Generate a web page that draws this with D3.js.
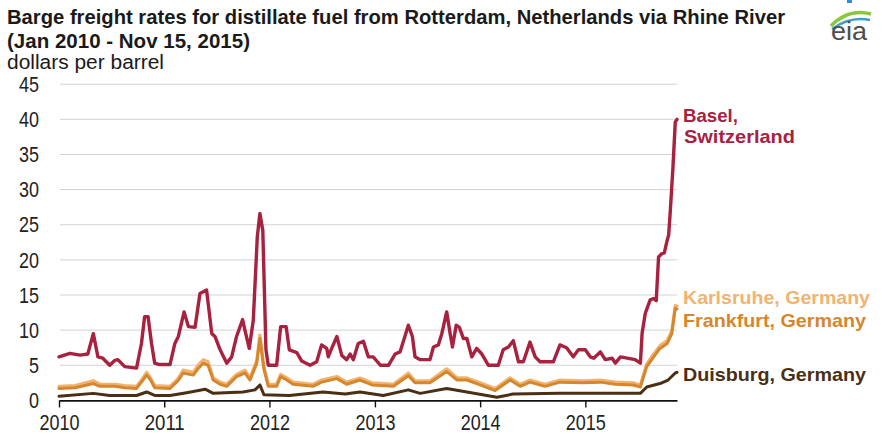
<!DOCTYPE html>
<html>
<head>
<meta charset="utf-8">
<script src="https://cdn.jsdelivr.net/npm/d3@7"></script>
<style>
  html, body { margin: 0; padding: 0; background: #ffffff; }
  svg { display: block; }
  text { font-family: "Liberation Sans", Arial, sans-serif; }
</style>
</head>
<body>
<svg id="chart" width="882" height="434"></svg>
<script>
// Barge freight rates, dollars per barrel, read weekly-ish from EIA series
const baselDates = [
  "2010-01-01","2010-02-08","2010-03-15","2010-04-11","2010-04-30","2010-05-16","2010-06-02","2010-06-26",
  "2010-07-14","2010-07-24","2010-08-17","2010-09-27","2010-10-14","2010-10-25","2010-11-06","2010-11-18",
  "2010-11-29","2010-12-16","2011-01-21","2011-02-07","2011-02-19","2011-03-11","2011-03-26","2011-04-18",
  "2011-05-05","2011-05-28","2011-06-15","2011-06-26","2011-07-14","2011-08-06","2011-08-23","2011-09-09",
  "2011-09-30","2011-10-08","2011-10-23","2011-11-06","2011-11-20","2011-11-29","2011-12-09","2011-12-20",
  "2011-12-28","2012-01-26","2012-02-09","2012-02-28","2012-03-10","2012-04-05","2012-04-22","2012-05-21",
  "2012-06-13","2012-06-30","2012-07-18","2012-07-23","2012-08-04","2012-08-22","2012-09-08","2012-09-25",
  "2012-10-07","2012-10-18","2012-11-04","2012-11-22","2012-12-09","2012-12-26","2013-01-20","2013-02-17",
  "2013-03-12","2013-03-29","2013-04-15","2013-04-27","2013-05-11","2013-05-20","2013-06-07","2013-07-11",
  "2013-07-23","2013-08-09","2013-08-21","2013-09-07","2013-09-19","2013-09-27","2013-10-10","2013-10-21",
  "2013-11-04","2013-11-16","2013-12-03","2013-12-20","2014-01-07","2014-01-30","2014-03-05","2014-03-22",
  "2014-04-09","2014-04-26","2014-05-14","2014-05-31","2014-06-23","2014-07-11","2014-07-28","2014-09-12",
  "2014-10-05","2014-10-28","2014-11-20","2014-12-08","2015-01-01","2015-01-18","2015-01-30","2015-02-22",
  "2015-03-11","2015-04-04","2015-04-15","2015-05-03","2015-06-23","2015-07-11","2015-07-17","2015-07-28",
  "2015-08-14","2015-08-26","2015-09-04","2015-09-12","2015-09-24","2015-10-02","2015-10-12","2015-10-17",
  "2015-10-23","2015-11-01","2015-11-09","2015-11-15"
];
const baselValues = [
  6.2, 6.7, 6.45, 6.6, 9.5, 6.2, 6.0, 5.0,
  5.7, 5.8, 4.8, 4.6, 8.1, 11.9, 11.9, 8.1,
  5.3, 5.1, 5.1, 8.1, 9.1, 12.6, 10.5, 10.4,
  15.2, 15.7, 9.5, 9.1, 7.2, 5.3, 6.2, 9.1,
  11.5, 10.0, 7.4, 11.4, 23.3, 26.6, 24.2, 7.2,
  5.0, 5.0, 10.5, 10.5, 7.2, 6.8, 5.6, 5.0,
  5.5, 7.9, 7.4, 6.2, 7.4, 9.1, 6.4, 5.8,
  6.6, 5.8, 8.1, 8.4, 6.2, 6.2, 5.0, 5.0,
  6.6, 6.9, 9.1, 10.7, 9.1, 6.2, 5.8, 5.8,
  7.6, 7.9, 9.5, 12.6, 9.5, 7.6, 10.7, 10.4,
  8.8, 8.8, 6.2, 7.4, 6.6, 5.0, 5.0, 7.2,
  7.6, 8.5, 5.5, 5.5, 8.3, 6.2, 5.5, 5.5,
  7.9, 7.5, 6.2, 7.2, 7.2, 6.2, 6.0, 6.9,
  5.8, 6.0, 5.3, 6.2, 5.8, 5.3, 9.6, 12.4,
  14.3, 14.5, 14.2, 20.4, 20.9, 21.0, 22.8, 23.5,
  27.1, 33.2, 39.6, 40.0
];

const rhineDates = [
  "2010-01-01","2010-02-26","2010-04-30","2010-05-23","2010-07-14","2010-08-17","2010-09-27","2010-10-14",
  "2010-11-01","2010-11-13","2010-11-29","2011-01-21","2011-02-18","2011-03-08","2011-04-12","2011-04-28",
  "2011-05-17","2011-06-02","2011-06-20","2011-07-14","2011-08-06","2011-09-09","2011-10-08","2011-10-26",
  "2011-11-18","2011-11-29","2011-12-13","2011-12-28","2012-01-26","2012-02-09","2012-03-01","2012-03-23",
  "2012-05-31","2012-06-30","2012-08-22","2012-09-25","2012-11-10","2012-12-22","2013-02-06","2013-03-06",
  "2013-04-27","2013-05-20","2013-07-11","2013-09-07","2013-10-13","2013-11-16","2014-01-01","2014-02-22",
  "2014-04-15","2014-05-20","2014-06-23","2014-08-14","2014-10-05","2014-12-24","2015-02-22","2015-04-15",
  "2015-06-16","2015-07-11","2015-08-02","2015-08-26","2015-09-17","2015-10-12","2015-10-28","2015-11-09",
  "2015-11-15"
];
const frankfurtValues = [
  1.7, 1.8, 2.4, 2.0, 2.0, 1.8, 1.7, 2.6,
  3.6, 3.0, 1.8, 1.7, 2.8, 3.9, 3.6, 4.5,
  5.3, 5.0, 2.9, 2.3, 2.0, 3.4, 3.9, 2.9,
  5.3, 8.8, 4.4, 2.0, 2.0, 3.4, 2.9, 2.3,
  2.0, 2.6, 3.1, 2.3, 2.9, 2.2, 2.1, 2.0,
  3.5, 2.5, 2.5, 4.1, 2.9, 2.9, 2.2, 1.4,
  2.9, 2.0, 2.6, 2.0, 2.6, 2.5, 2.6, 2.3,
  2.2, 1.9, 4.8, 6.2, 7.4, 8.1, 9.5, 13.1,
  13.0
];
const karlsruheValues = [
  2.0, 2.1, 2.8, 2.3, 2.3, 2.1, 2.0, 2.9,
  4.0, 3.3, 2.1, 2.0, 3.1, 4.3, 4.0, 5.0,
  5.8, 5.5, 3.2, 2.6, 2.3, 3.7, 4.3, 3.2,
  5.7, 9.3, 4.8, 2.3, 2.3, 3.7, 3.2, 2.6,
  2.3, 2.9, 3.4, 2.6, 3.2, 2.5, 2.4, 2.3,
  3.9, 2.8, 2.8, 4.5, 3.2, 3.2, 2.5, 1.7,
  3.2, 2.3, 2.9, 2.3, 2.9, 2.8, 2.9, 2.6,
  2.5, 2.2, 5.2, 6.6, 7.8, 8.5, 9.9, 13.5,
  13.4
];

const duisburgDates = [
  "2010-01-01","2010-04-30","2010-06-26","2010-09-27","2010-11-01","2010-11-29","2011-01-21","2011-03-20",
  "2011-05-23","2011-06-20","2011-10-01","2011-11-12","2011-11-29","2011-12-13","2012-03-10","2012-07-05",
  "2012-09-20","2012-11-10","2013-01-30","2013-04-27","2013-06-07","2013-09-07","2013-11-16","2014-02-28",
  "2014-04-25","2014-10-05","2015-02-22","2015-07-11","2015-08-02","2015-09-17","2015-10-15","2015-11-09",
  "2015-11-15"
];
const duisburgValues = [
  0.6, 1.0, 0.7, 0.7, 1.2, 0.7, 0.7, 1.1,
  1.6, 1.0, 1.2, 1.5, 2.2, 0.8, 0.7, 1.2,
  0.9, 1.2, 0.7, 1.5, 1.0, 1.7, 1.2, 0.45,
  0.9, 1.0, 1.0, 1.0, 1.9, 2.4, 2.9, 3.9,
  4.0
];

const yTicks = [0, 5, 10, 15, 20, 25, 30, 35, 40, 45];
const yearTicks = ["2010", "2011", "2012", "2013", "2014", "2015"];

const parse = d3.timeParse("%Y-%m-%d");
const zip = (dates, values) => dates.map((d, i) => ({ date: parse(d), value: values[i] }));

const series = [
  { name: "Karlsruhe", data: zip(rhineDates, karlsruheValues), color: "#f2b36f", width: 3.2 },
  { name: "Frankfurt", data: zip(rhineDates, frankfurtValues), color: "#d6862c", width: 3 },
  { name: "Duisburg", data: zip(duisburgDates, duisburgValues), color: "#4b2f14", width: 3 },
  { name: "Basel", data: zip(baselDates, baselValues), color: "#a8223f", width: 3.4 }
];

const svg = d3.select("#chart");
const plotLeft = 59, plotRight = 677, plotTop = 84.2, plotBottom = 400.4;

const x = d3.scaleTime()
  .domain([parse("2010-01-01"), parse("2015-11-15")])
  .range([plotLeft, plotRight]);
const y = d3.scaleLinear().domain([0, 45]).range([plotBottom, plotTop]);

// horizontal gridlines
svg.append("g")
  .selectAll("line")
  .data(yTicks.filter(t => t > 0))
  .join("line")
  .attr("x1", plotLeft + 1).attr("x2", plotRight)
  .attr("y1", d => y(d)).attr("y2", d => y(d))
  .attr("stroke", "#d2d2d2").attr("stroke-width", 1);

// y-axis labels
const yAxis = svg.append("g")
  .attr("transform", `translate(${plotLeft},0)`)
  .call(d3.axisLeft(y).tickValues(yTicks).tickSize(0).tickPadding(20));
yAxis.select(".domain").remove();
yAxis.selectAll("text")
  .attr("font-size", 22)
  .attr("fill", "#222")
  .attr("font-family", "Liberation Sans, Arial, sans-serif")
  .attr("dy", "0.33em")
  .attr("textLength", d => d >= 10 ? 20 : 10)
  .attr("lengthAdjust", "spacingAndGlyphs");

// series lines
const line = d3.line().x(d => x(d.date)).y(d => y(d.value));
svg.append("g")
  .selectAll("path")
  .data(series)
  .join("path")
  .attr("d", d => line(d.data))
  .attr("fill", "none")
  .attr("stroke", d => d.color)
  .attr("stroke-width", d => d.width)
  .attr("stroke-linejoin", "round")
  .attr("stroke-linecap", "round");

// x axis
const xAxis = svg.append("g")
  .attr("transform", `translate(0,${plotBottom})`)
  .call(d3.axisBottom(x)
    .tickValues(yearTicks.map(t => parse(t + "-01-01")))
    .tickFormat(d3.timeFormat("%Y"))
    .tickSizeInner(7).tickSizeOuter(0).tickPadding(7));
xAxis.select(".domain").attr("stroke", "#111").attr("stroke-width", 1.6);
xAxis.selectAll(".tick line").attr("stroke", "#111").attr("stroke-width", 1.4);
xAxis.selectAll("text")
  .attr("font-size", 22)
  .attr("fill", "#222")
  .attr("font-family", "Liberation Sans, Arial, sans-serif")
  .attr("dy", "0.71em")
  .attr("textLength", 40)
  .attr("lengthAdjust", "spacingAndGlyphs");

// titles
function label(txt, x0, yb, size, width, opts = {}) {
  svg.append("text")
    .attr("x", x0).attr("y", yb)
    .attr("font-size", size)
    .attr("font-weight", opts.bold ? "bold" : "normal")
    .attr("fill", opts.fill || "#1a1a1a")
    .attr("textLength", width)
    .attr("lengthAdjust", "spacingAndGlyphs")
    .text(txt);
}
label("Barge freight rates for distillate fuel from Rotterdam, Netherlands via Rhine River", 7, 24, 20.5, 778, { bold: true });
label("(Jan 2010 - Nov 15, 2015)", 7, 47.5, 20.5, 243, { bold: true });
label("dollars per barrel", 7, 69, 20, 157);

// series labels
label("Basel,", 683, 121.5, 19, 55, { bold: true, fill: "#a8223f" });
label("Switzerland", 684, 142.5, 19, 111, { bold: true, fill: "#a8223f" });
label("Karlsruhe, Germany", 683, 303.5, 19, 187, { bold: true, fill: "#f2b36f" });
label("Frankfurt, Germany", 683, 327, 19, 183, { bold: true, fill: "#d6862c" });
label("Duisburg, Germany", 683, 381, 19, 183, { bold: true, fill: "#4b2f14" });

// eia logo
const logo = svg.append("g");
logo.append("path")
  .attr("d", "M831,26 Q848,8 871,14")
  .attr("fill", "none").attr("stroke", "#8cc63f").attr("stroke-width", 3.5);
logo.append("path")
  .attr("d", "M832,29 Q850,16 870,20")
  .attr("fill", "none").attr("stroke", "#3aa0c8").attr("stroke-width", 2.5);
logo.append("text")
  .attr("x", 831).attr("y", 40)
  .attr("font-family", "Liberation Serif, DejaVu Serif, serif")
  .attr("font-size", 25)
  .attr("fill", "#4d4d4d")
  .attr("textLength", 36)
  .attr("lengthAdjust", "spacingAndGlyphs")
  .text("eia");
logo.append("rect")
  .attr("x", 847).attr("y", 0).attr("width", 5).attr("height", 3)
  .attr("fill", "#2a8fd6");
</script>
</body>
</html>
